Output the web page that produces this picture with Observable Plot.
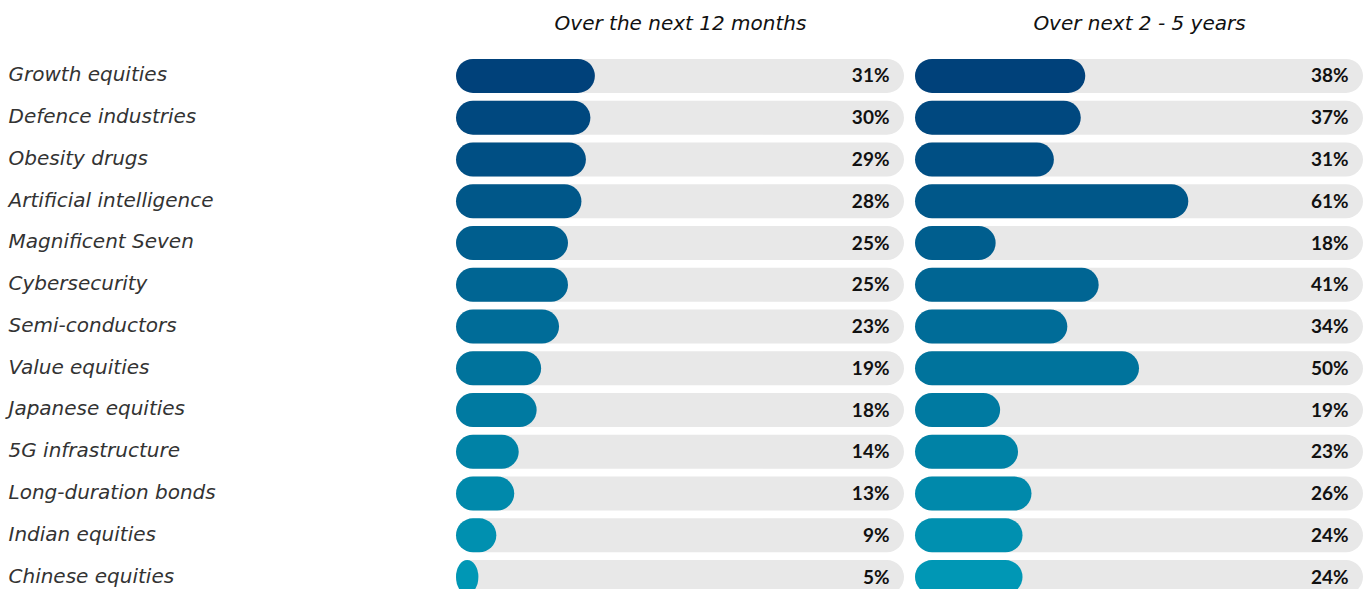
<!DOCTYPE html>
<html>
<head>
<meta charset="utf-8">
<script src="https://cdn.jsdelivr.net/npm/d3@7"></script>
<script src="https://cdn.jsdelivr.net/npm/@observablehq/plot@0.6"></script>
<style>
  html, body { margin: 0; padding: 0; background: #fff; overflow: hidden; }
  #chart svg { display: block; }
</style>
</head>
<body>
<div id="chart"></div>
<script>
const categories = [
  "Growth equities", "Defence industries", "Obesity drugs", "Artificial intelligence",
  "Magnificent Seven", "Cybersecurity", "Semi-conductors", "Value equities",
  "Japanese equities", "5G infrastructure", "Long-duration bonds", "Indian equities",
  "Chinese equities"
];
const periods = ["Over the next 12 months", "Over next 2 - 5 years"];
const next12Months = [31, 30, 29, 28, 25, 25, 23, 19, 18, 14, 13, 9, 5];
const next2to5Years = [38, 37, 31, 61, 18, 41, 34, 50, 19, 23, 26, 24, 24];

const rows = [];
categories.forEach((c, i) => {
  rows.push({category: c, period: periods[0], value: next12Months[i]});
  rows.push({category: c, period: periods[1], value: next2to5Years[i]});
});

const colorRange = d3.quantize(d3.interpolateRgb("#00417a", "#0097b5"), categories.length);

const chart = Plot.plot({
  width: 1370,
  height: 598,
  marginLeft: 456,
  marginRight: 7,
  marginTop: 55,
  marginBottom: 0,
  style: {fontFamily: "Lato, sans-serif", background: "#fff"},
  fx: {domain: periods, paddingInner: 0.024, paddingOuter: 0, round: false, label: null},
  x: {domain: [0, 100], axis: null},
  y: {domain: categories, paddingInner: 0.186, paddingOuter: 0.093, round: false, label: null},
  color: {type: "ordinal", domain: categories, range: colorRange},
  marks: [
    Plot.axisFx({anchor: "top", tickSize: 0, tickPadding: 26, label: null,
      fontSize: 20, fontStyle: "italic", fill: "#111", fontFamily: "'DejaVu Sans', sans-serif"}),
    Plot.axisY({tickSize: 0, tickPadding: 0, textAnchor: "start", dx: -448, dy: -1.5,
      fontSize: 20, fontStyle: "italic", fill: "#333", label: null, fontFamily: "'DejaVu Sans', sans-serif"}),
    Plot.barX(rows, {fx: "period", y: "category", x1: 0, x2: 100, fill: "#e8e8e8", rx: 17}),
    Plot.barX(rows, {fx: "period", y: "category", x1: 0, x2: "value", fill: "category", rx: 17}),
    Plot.text(rows, {fx: "period", y: "category", x: 100, text: d => d.value + "%",
      textAnchor: "end", dx: -15, fontSize: 19, fontWeight: "bold", fill: "#111"})
  ]
});
document.getElementById("chart").appendChild(chart);
</script>
</body>
</html>
